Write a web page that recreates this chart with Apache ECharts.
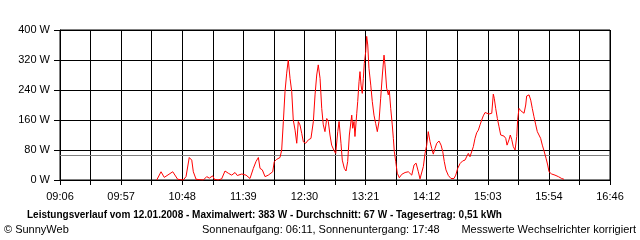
<!DOCTYPE html>
<html>
<head>
<meta charset="utf-8">
<script src="https://cdn.jsdelivr.net/npm/echarts@6/dist/echarts.min.js"></script>
<style>
  html, body { margin: 0; padding: 0; background: #fff; }
  #chart { width: 640px; height: 240px; }
</style>
</head>
<body>
<div id="chart"></div>
<script>
// ---- data ----
const startMinute = 9 * 60 + 6;    // 09:06, axis start
const endMinute = 16 * 60 + 46;    // 16:46, axis end
const tickCount = 9;               // intervals between labelled ticks
// time of each sample, minutes after 09:06
const minutesAfterStart = [
  80.9, 84.5, 87.2, 94.3, 98.4, 103.1, 105.4, 108.1, 110.2, 111.5, 113.8, 119.9,
  122.7, 124.9, 127.7, 129.1, 132.2, 135.2, 138.0, 140.8, 143.6, 146.4, 148.3, 152.0,
  155.6, 158.9, 161.7, 163.9, 165.9, 167.3, 169.2, 171.5, 174.2, 177.9, 179.2, 181.2,
  184.0, 185.4, 186.8, 188.2, 189.6, 190.9, 192.4, 193.8, 195.1, 196.6, 198.0, 199.3,
  200.7, 202.2, 203.5, 205.5, 207.7, 209.9, 211.9, 213.3, 214.7, 216.0, 217.5, 218.9,
  220.2, 221.6, 223.1, 224.4, 225.8, 227.2, 229.4, 230.6, 232.3, 233.4, 235.0, 236.1,
  237.8, 239.2, 240.6, 242.0, 244.0, 244.8, 245.9, 246.7, 248.2, 249.0, 250.1, 250.9,
  251.8, 252.8, 253.7, 254.5, 255.7, 256.5, 257.4, 258.4, 259.9, 261.2, 262.6, 264.0,
  265.4, 266.8, 268.2, 269.6, 271.0, 271.8, 273.2, 274.6, 275.4, 276.6, 277.9, 278.8,
  279.6, 280.8, 282.1, 283.8, 285.8, 288.6, 291.3, 294.2, 296.1, 297.8, 299.7, 301.1,
  302.5, 303.9, 305.3, 306.7, 308.0, 309.5, 310.9, 312.2, 313.6, 315.1, 317.0, 318.7,
  320.1, 321.4, 322.8, 324.8, 327.0, 329.5, 331.0, 332.6, 334.6, 336.8, 338.7, 340.2,
  341.5, 342.9, 344.3, 345.7, 347.1, 348.5, 349.9, 351.3, 352.7, 354.0, 355.5, 356.9,
  358.8, 359.6, 361.1, 362.4, 363.2, 364.4, 365.8, 367.2, 368.6, 369.9, 371.4, 372.8,
  373.9, 375.5, 376.6, 377.8, 379.1, 380.6, 382.0, 382.8, 383.9, 385.3, 386.7, 388.1,
  389.5, 390.3, 392.3, 393.7, 395.0, 396.4, 397.9, 399.2, 400.6, 402.0, 403.4, 404.8,
  406.5, 407.9, 409.0, 411.2, 414.0, 416.8, 419.6, 421.5
];
// power in W
const watts = [
  0, 22, 7, 22, 2, 0, 9, 60, 53, 22, 2, 0,
  9, 5, 11, 2, 0, 3, 24, 18, 13, 20, 12, 16,
  13, 4, 31, 49, 60, 31, 27, 9, 13, 22, 49, 55,
  60, 80, 156, 236, 285, 320, 271, 236, 160, 133, 98, 156,
  147, 124, 102, 98, 107, 111, 156, 227, 280, 307, 271, 191,
  147, 129, 164, 156, 120, 93, 77, 71, 129, 156, 98, 53,
  31, 24, 49, 120, 173, 138, 156, 116, 178, 209, 262, 289,
  253, 231, 271, 311, 342, 383, 360, 298, 253, 209, 173, 151,
  129, 156, 218, 280, 333, 307, 245, 227, 240, 191, 147, 111,
  76, 49, 18, 6, 15, 20, 22, 13, 40, 45, 22, 3,
  3, 36, 71, 93, 129, 102, 84, 69, 84, 98, 104, 93,
  76, 49, 27, 12, 4, 4, 13, 31, 44, 51, 53, 55,
  71, 62, 60, 89, 111, 126, 133, 147, 160, 171, 180, 182,
  176, 173, 178, 229, 218, 191, 164, 142, 120, 116, 117, 111,
  93, 107, 120, 108, 89, 80, 116, 162, 191, 185, 188, 178,
  200, 224, 227, 213, 191, 169, 147, 129, 124, 111, 93, 78,
  58, 40, 22, 16, 13, 9, 4, 2
];
const yMax = 400;
const yStep = 80;
const averageW = 67;
const maxW = 383;
const dateText = '12.01.2008';
const dailyYield = '0,51';
const sunrise = '06:11';
const sunset = '17:48';

// ---- chart ----
const pad = n => (n < 10 ? '0' : '') + n;
function clock(v) {
  const m = Math.floor(startMinute + v + 1e-6);
  return pad(Math.floor(m / 60)) + ':' + pad(m % 60);
}
const span = endMinute - startMinute;
const font = 'Liberation Sans';

const chart = echarts.init(document.getElementById('chart'), null, { renderer: 'canvas' });
chart.setOption({
  animation: false,
  backgroundColor: '#ffffff',
  grid: { left: 60, right: 30, top: 30, bottom: 60, show: true, borderColor: '#000', borderWidth: 1 },
  title: [
    {
      text: 'Leistungsverlauf vom ' + dateText + ' - Maximalwert: ' + maxW + ' W - Durchschnitt: ' +
        averageW + ' W - Tagesertrag: ' + dailyYield + ' kWh',
      left: 27, top: 210, padding: 0,
      textStyle: { fontFamily: font, fontSize: 10, fontWeight: 'bold', color: '#000' }
    },
    {
      text: '© SunnyWeb', left: 4, top: 224, padding: 0,
      textStyle: { fontFamily: font, fontSize: 11, fontWeight: 'normal', color: '#000' }
    },
    {
      text: 'Sonnenaufgang: ' + sunrise + ', Sonnenuntergang: ' + sunset, left: 202, top: 224, padding: 0,
      textStyle: { fontFamily: font, fontSize: 11, fontWeight: 'normal', color: '#000' }
    },
    {
      text: 'Messwerte Wechselrichter korrigiert', right: 4, top: 224, padding: 0,
      textStyle: { fontFamily: font, fontSize: 11, fontWeight: 'normal', color: '#000' }
    }
  ],
  xAxis: {
    type: 'value', min: 0, max: span, interval: span / tickCount,
    axisLine: { show: true, lineStyle: { color: '#000', width: 1 } },
    axisTick: { show: true, length: 5, lineStyle: { color: '#000' } },
    minorTick: { show: true, splitNumber: 2, length: 5, lineStyle: { color: '#000' } },
    splitLine: { show: true, lineStyle: { color: '#000', width: 1 } },
    minorSplitLine: { show: true, lineStyle: { color: '#000', width: 1 } },
    axisLabel: {
      formatter: v => clock(v), margin: 11, showMaxLabel: true, showMinLabel: true,
      fontFamily: font, fontSize: 11, color: '#000'
    }
  },
  yAxis: {
    type: 'value', min: 0, max: yMax, interval: yStep,
    axisLine: { show: true, lineStyle: { color: '#000', width: 1 } },
    axisTick: { show: true, length: 6, lineStyle: { color: '#000' } },
    splitLine: { show: true, lineStyle: { color: '#000', width: 1 } },
    axisLabel: { formatter: '{value} W', margin: 10, fontFamily: font, fontSize: 11, color: '#000' }
  },
  series: [{
    type: 'line',
    data: minutesAfterStart.map((t, i) => [t, watts[i]]),
    showSymbol: false,
    lineStyle: { color: '#ff0000', width: 1 },
    itemStyle: { color: '#ff0000' },
    z: 5,
    markLine: {
      silent: true, symbol: 'none', label: { show: false },
      lineStyle: { color: '#808080', type: 'solid', width: 1 },
      data: [{ yAxis: averageW }]
    }
  }]
});
</script>
</body>
</html>
